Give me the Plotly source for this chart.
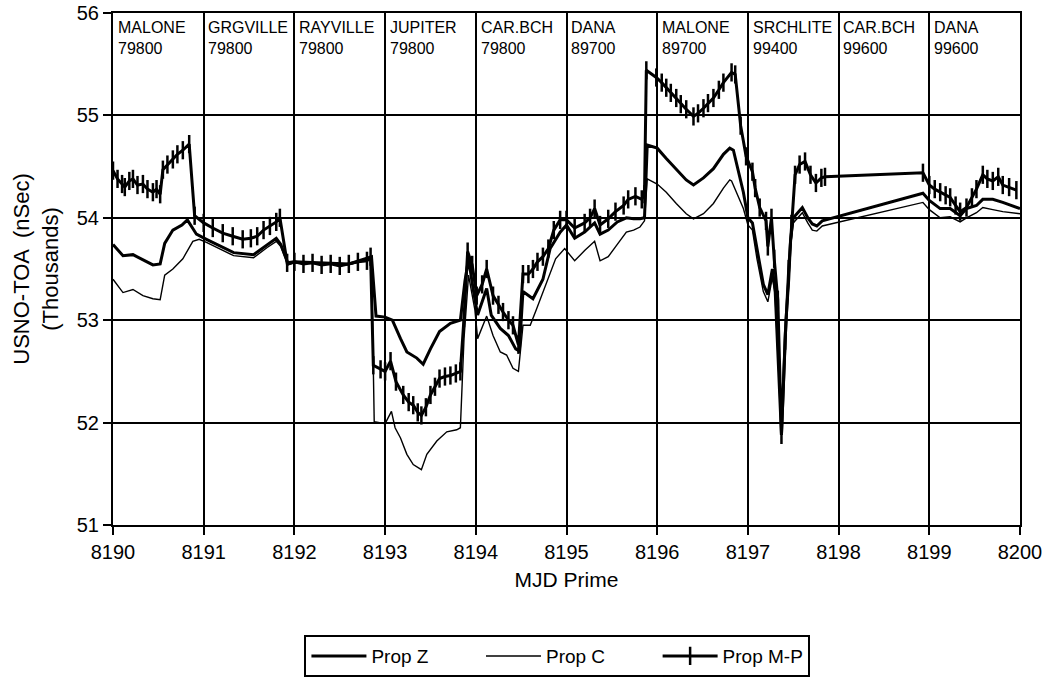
import plotly.graph_objects as go

# ---------------- data ----------------
z_x = [8190.00, 8190.11, 8190.22, 8190.33, 8190.44, 8190.52, 8190.57, 8190.66, 8190.76, 8190.82,
       8190.92, 8191.03, 8191.33, 8191.55, 8191.70, 8191.80, 8191.85, 8191.93, 8192.00, 8192.30,
       8192.60, 8192.85, 8192.90, 8193.00, 8193.08, 8193.17, 8193.24, 8193.35, 8193.42, 8193.50,
       8193.60, 8193.72, 8193.83, 8193.88, 8193.92, 8193.97, 8194.02, 8194.12, 8194.17, 8194.27,
       8194.36, 8194.44, 8194.48, 8194.52, 8194.63, 8194.74, 8194.82, 8194.93, 8195.00, 8195.09,
       8195.20, 8195.31, 8195.37, 8195.46, 8195.56, 8195.66, 8195.74, 8195.81, 8195.86, 8195.89,
       8196.00, 8196.10, 8196.21, 8196.32, 8196.40, 8196.51, 8196.62, 8196.73, 8196.80, 8196.84,
       8196.95, 8197.00, 8197.05, 8197.10, 8197.17, 8197.22, 8197.27, 8197.30, 8197.37, 8197.42,
       8197.45, 8197.47, 8197.50, 8197.55, 8197.60, 8197.66, 8197.71, 8197.76, 8197.82, 8198.93,
       8199.00, 8199.12, 8199.23, 8199.34, 8199.41, 8199.52, 8199.59, 8199.70, 8199.81, 8200.00]
z_y = [53.74, 53.63, 53.64, 53.59, 53.54, 53.55, 53.75, 53.88, 53.93, 53.98,
       53.84, 53.79, 53.66, 53.64, 53.74, 53.80, 53.74, 53.55, 53.57, 53.56,
       53.55, 53.62, 53.04, 53.03, 53.00, 52.82, 52.69, 52.63, 52.57, 52.72,
       52.89, 52.97, 53.00, 53.38, 53.60, 53.31, 53.05, 53.31, 53.05, 52.92,
       52.85, 52.72, 52.70, 53.28, 53.21, 53.40, 53.70, 53.86, 53.93, 53.80,
       53.86, 53.95, 53.84, 53.88, 53.96, 54.00, 53.99, 53.99, 54.00, 54.71,
       54.68, 54.58, 54.47, 54.37, 54.32, 54.39, 54.48, 54.62, 54.68, 54.66,
       54.25, 54.00, 53.95, 53.70, 53.35, 53.25, 53.50, 53.30, 51.88, 53.00,
       53.40, 53.78, 54.00, 54.05, 54.10, 54.00, 53.94, 53.92, 53.97, 54.24,
       54.17, 54.09, 54.09, 54.02, 54.09, 54.12, 54.18, 54.18, 54.15, 54.09]

c_x = [8190.00, 8190.11, 8190.22, 8190.33, 8190.44, 8190.52, 8190.57, 8190.66, 8190.77, 8190.88,
       8190.95, 8191.03, 8191.33, 8191.55, 8191.70, 8191.80, 8191.85, 8191.93, 8192.00, 8192.30,
       8192.60, 8192.85, 8192.88, 8193.00, 8193.07, 8193.11, 8193.17, 8193.24, 8193.31, 8193.40,
       8193.46, 8193.57, 8193.68, 8193.79, 8193.83, 8193.87, 8193.92, 8193.99, 8194.02, 8194.12,
       8194.19, 8194.27, 8194.34, 8194.41, 8194.47, 8194.52, 8194.60, 8194.67, 8194.78, 8194.88,
       8194.98, 8195.09, 8195.20, 8195.31, 8195.37, 8195.46, 8195.56, 8195.66, 8195.74, 8195.81,
       8195.86, 8195.89, 8196.00, 8196.10, 8196.21, 8196.32, 8196.40, 8196.51, 8196.62, 8196.73,
       8196.80, 8196.82, 8196.95, 8197.00, 8197.05, 8197.10, 8197.17, 8197.22, 8197.27, 8197.30,
       8197.37, 8197.42, 8197.45, 8197.47, 8197.50, 8197.55, 8197.60, 8197.66, 8197.71, 8197.76,
       8197.82, 8198.93, 8199.00, 8199.12, 8199.23, 8199.34, 8199.41, 8199.52, 8199.59, 8199.70,
       8199.81, 8200.00]
c_y = [53.40, 53.27, 53.30, 53.24, 53.21, 53.20, 53.44, 53.50, 53.60, 53.77,
       53.79, 53.76, 53.63, 53.61, 53.71, 53.77, 53.72, 53.54, 53.56, 53.55,
       53.54, 53.60, 52.01, 51.99, 52.11, 51.95, 51.85, 51.69, 51.59, 51.54,
       51.69, 51.82, 51.91, 51.93, 51.95, 52.82, 53.44, 53.10, 52.82, 53.04,
       52.85, 52.69, 52.66, 52.53, 52.50, 52.95, 52.95, 53.11, 53.37, 53.60,
       53.70, 53.58, 53.68, 53.77, 53.58, 53.62, 53.74, 53.86, 53.88, 53.91,
       53.97, 54.38, 54.33, 54.25, 54.14, 54.04, 53.99, 54.04, 54.14, 54.29,
       54.37, 54.36, 54.09, 53.93, 53.88, 53.60, 53.28, 53.18, 53.42, 53.25,
       51.90, 52.95, 53.35, 53.72, 53.95, 54.00, 54.05, 53.95, 53.88, 53.87,
       53.92, 54.15, 54.08, 54.00, 54.01, 53.96, 54.00, 54.05, 54.10, 54.08,
       54.06, 54.04]

mp_x = [8190.00, 8190.05, 8190.10, 8190.13, 8190.18, 8190.22, 8190.27, 8190.33, 8190.38, 8190.44,
        8190.48, 8190.52, 8190.55, 8190.60, 8190.66, 8190.71, 8190.77, 8190.84, 8190.90, 8191.00,
        8191.10, 8191.21, 8191.32, 8191.43, 8191.52, 8191.59, 8191.66, 8191.73, 8191.80, 8191.84,
        8191.92, 8192.00, 8192.10, 8192.20, 8192.30, 8192.40, 8192.50, 8192.60, 8192.70, 8192.80,
        8192.84, 8192.87, 8192.95, 8193.00, 8193.06, 8193.12, 8193.20, 8193.26, 8193.31, 8193.36,
        8193.40, 8193.45, 8193.50, 8193.55, 8193.60, 8193.66, 8193.72, 8193.78, 8193.83, 8193.87,
        8193.91, 8193.96, 8194.01, 8194.07, 8194.12, 8194.19, 8194.25, 8194.30, 8194.36, 8194.41,
        8194.47, 8194.52, 8194.58, 8194.63, 8194.68, 8194.74, 8194.80, 8194.86, 8194.93, 8195.00,
        8195.09, 8195.20, 8195.26, 8195.31, 8195.37, 8195.46, 8195.54, 8195.63, 8195.68, 8195.76,
        8195.83, 8195.86, 8195.88, 8195.99, 8196.05, 8196.10, 8196.15, 8196.21, 8196.26, 8196.32,
        8196.40, 8196.45, 8196.51, 8196.56, 8196.62, 8196.68, 8196.73, 8196.82, 8196.86, 8196.92,
        8196.98, 8197.05, 8197.08, 8197.13, 8197.20, 8197.22, 8197.26, 8197.29, 8197.33, 8197.37,
        8197.41, 8197.45, 8197.48, 8197.52, 8197.57, 8197.63, 8197.69, 8197.75, 8197.81, 8197.85,
        8198.93, 8199.00, 8199.06, 8199.12, 8199.18, 8199.23, 8199.29, 8199.34, 8199.41, 8199.47,
        8199.52, 8199.59, 8199.64, 8199.70, 8199.76, 8199.81, 8199.88, 8199.96]
mp_y = [54.46, 54.38, 54.33, 54.30, 54.36, 54.38, 54.32, 54.33, 54.28, 54.25,
        54.28, 54.23, 54.47, 54.52, 54.57, 54.62, 54.66, 54.72, 54.02, 53.95,
        53.90, 53.85, 53.82, 53.79, 53.80, 53.82, 53.88, 53.92, 53.96, 54.00,
        53.56, 53.57, 53.55, 53.56, 53.54, 53.55, 53.53, 53.55, 53.57, 53.58,
        53.62, 52.56, 52.52, 52.50, 52.60, 52.40, 52.27, 52.20, 52.17, 52.10,
        52.07, 52.15, 52.27, 52.35, 52.43, 52.45, 52.46, 52.48, 52.50, 53.02,
        53.67, 53.54, 53.24, 53.35, 53.50, 53.24, 53.15, 53.08, 53.00, 52.95,
        52.76, 53.45, 53.45, 53.50, 53.57, 53.62, 53.70, 53.88, 53.98, 53.98,
        53.90, 53.95, 54.00, 54.09, 53.93, 53.99, 54.06, 54.12, 54.18, 54.21,
        54.18, 54.23, 55.44, 55.37, 55.32, 55.27, 55.22, 55.17, 55.11, 55.06,
        54.99, 55.02, 55.07, 55.12, 55.17, 55.25, 55.32, 55.42, 55.40, 54.90,
        54.60, 54.45, 54.29, 54.10, 53.97, 53.72, 54.00, 53.60, 53.20, 51.88,
        52.80, 53.50, 53.94, 54.42, 54.52, 54.55, 54.42, 54.34, 54.39, 54.40,
        54.44, 54.32, 54.28, 54.25, 54.22, 54.20, 54.12, 54.06, 54.10, 54.20,
        54.28, 54.42, 54.38, 54.36, 54.40, 54.32, 54.30, 54.27]

site_x = [8190, 8191, 8192, 8193, 8194, 8195, 8196, 8197, 8198, 8199]
site_names = ["MALONE", "GRGVILLE", "RAYVILLE", "JUPITER", "CAR.BCH",
              "DANA", "MALONE", "SRCHLITE", "CAR.BCH", "DANA"]
site_codes = ["79800", "79800", "79800", "79800", "79800",
              "89700", "89700", "99400", "99600", "99600"]

x_ticks = [8190, 8191, 8192, 8193, 8194, 8195, 8196, 8197, 8198, 8199, 8200]
y_ticks = [51, 52, 53, 54, 55, 56]

# ---------------- figure ----------------
FONT = "Liberation Sans"
PAD = "&nbsp;" * 9
fig = go.Figure()

fig.add_trace(go.Scatter(x=z_x, y=z_y, mode="lines", name="Prop Z" + PAD,
                         line=dict(color="black", width=3)))
fig.add_trace(go.Scatter(x=c_x, y=c_y, mode="lines", name="Prop C" + PAD,
                         line=dict(color="black", width=1.4)))
fig.add_trace(go.Scatter(x=mp_x, y=mp_y, mode="lines+markers", name="Prop M-P",
                         line=dict(color="black", width=3),
                         marker=dict(symbol="line-ns-open", size=13,
                                     line=dict(color="black", width=2.5))))

for sx, nm, cd in zip(site_x, site_names, site_codes):
    fig.add_annotation(x=sx + 0.03, y=55.96, xref="x", yref="y",
                       text=nm + "<br>" + cd, showarrow=False,
                       xanchor="left", yanchor="top", align="left",
                       font=dict(family=FONT, size=16, color="black"))

fig.update_xaxes(range=[8190, 8200], tickvals=x_ticks,
                 ticktext=[str(v) for v in x_ticks],
                 showgrid=True, gridcolor="black", gridwidth=2,
                 showline=True, linecolor="black", linewidth=2, mirror=True,
                 ticks="outside", ticklen=8, tickwidth=2, tickcolor="black",
                 zeroline=False,
                 tickfont=dict(family=FONT, size=20, color="black"),
                 title=dict(text="MJD Prime", standoff=10,
                            font=dict(family=FONT, size=21, color="black")))
fig.update_yaxes(range=[51, 56], tickvals=y_ticks,
                 showgrid=True, gridcolor="black", gridwidth=2,
                 showline=True, linecolor="black", linewidth=2, mirror=True,
                 ticks="outside", ticklen=8, tickwidth=2, tickcolor="black",
                 zeroline=False,
                 tickfont=dict(family=FONT, size=20, color="black"),
                 title=dict(text="USNO-TOA  (nSec)<br>(Thousands)", standoff=12,
                            font=dict(family=FONT, size=22, color="black")))

fig.update_layout(
    width=1049, height=682,
    margin=dict(l=113, r=29, t=13, b=157, autoexpand=False),
    paper_bgcolor="white", plot_bgcolor="white",
    showlegend=True,
    legend=dict(orientation="h", x=0.49, xanchor="center", y=-0.215, yanchor="top",
                bordercolor="black", borderwidth=2, bgcolor="white",
                font=dict(family=FONT, size=19, color="black"),
                itemwidth=55, tracegroupgap=0),
)

fig.write_html("out.html")
